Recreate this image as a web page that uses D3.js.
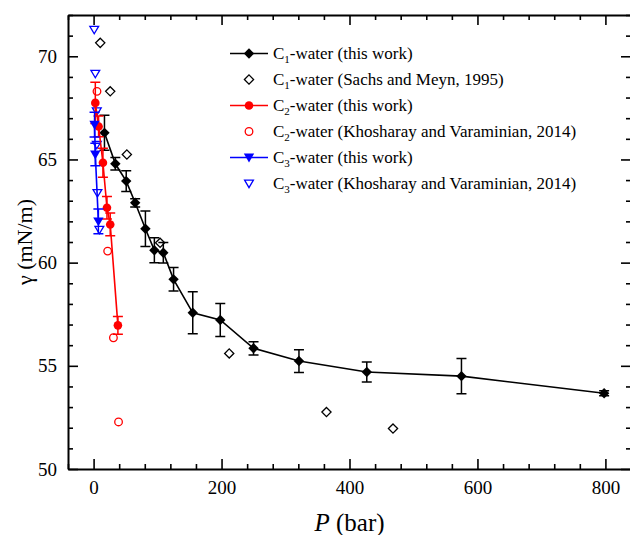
<!DOCTYPE html>
<html>
<head>
<meta charset="utf-8">
<script src="https://cdn.jsdelivr.net/npm/d3@7"></script>
<style>
body{margin:0;background:#fff;}
</style>
</head>
<body>
<script>
// C1-water (this work)
var c1P=[17,34,51,65,81,95,109,125,155,198,250,321,427,575,798];
var c1G=[66.29,64.79,63.95,62.9,61.64,60.6,60.48,59.19,57.57,57.22,55.85,55.23,54.7,54.5,53.67];
var c1Err=[0.85,0.3,0.5,0.2,0.86,0.6,0.5,0.57,1.02,0.8,0.32,0.55,0.48,0.85,0.12];
// C1-water (Sachs and Meyn, 1995)
var sachsP=[10.4,26,52,104,212,364,468];
var sachsG=[70.65,68.3,65.24,60.96,55.6,52.76,51.96];
// C2-water (this work)
var c2P=[2.7,7.8,14.6,20.9,26,38];
var c2G=[67.74,66.6,64.84,62.66,61.85,56.96];
var c2Err=[1.0,0.5,0.7,0.55,0.55,0.43];
// C2-water (Khosharay and Varaminian, 2014)
var khC2P=[5.3,22,31,39];
var khC2G=[68.3,60.56,56.36,52.28];
// C3-water (this work)
var c3P=[1.5,2.7,7.5];
var c3G=[66.69,65.24,62.0];
var c3Err=[0.6,0.55,0.6];
// C3-water (Khosharay and Varaminian, 2014)
var khC3P=[1,2.7,5,5,6,9];
var khC3G=[71.29,69.16,67.34,65.72,63.38,61.6];

var xMajor=[0,200,400,600,800];
var yMajor=[50,55,60,65,70];

var W=630,H=535;
var L=68,R=631,T=15,B=469;
var czcionka="'Liberation Serif', 'DejaVu Serif', serif";

var svg=d3.select("body").append("svg").attr("width",W).attr("height",H);
var x=d3.scaleLinear().domain([-40,840]).range([L,R]);
var y=d3.scaleLinear().domain([50,72]).range([B,T]);

// markers
function markerPath(typ,s)
{
	if(typ=="diamond")
		return "M0,"+(-s)+"L"+s+",0L0,"+s+"L"+(-s)+",0Z";
	if(typ=="tri")
		return "M"+(-s)+","+(-s*0.75)+"L"+s+","+(-s*0.75)+"L0,"+(s*0.95)+"Z";
	return d3.arc()({innerRadius:0,outerRadius:s,startAngle:0,endAngle:2*Math.PI});
}

var seriesLines=[
	{p:c1P,g:c1G,e:c1Err,kolor:"#000",typ:"diamond",s:5.2},
	{p:c2P,g:c2G,e:c2Err,kolor:"#f00",typ:"circle",s:4.3},
	{p:c3P,g:c3G,e:c3Err,kolor:"#00f",typ:"tri",s:5.2}
];
var seriesOpen=[
	{p:sachsP,g:sachsG,kolor:"#000",typ:"diamond",s:4.6},
	{p:khC2P,g:khC2G,kolor:"#f00",typ:"circle",s:3.8},
	{p:khC3P,g:khC3G,kolor:"#00f",typ:"tri",s:4.4}
];

var plot=svg.append("g");

// open symbols (literature)
seriesOpen.forEach(function(sr){
	sr.p.forEach(function(p,i){
		plot.append("path")
			.attr("d",markerPath(sr.typ,sr.s))
			.attr("transform","translate("+x(p)+","+y(sr.g[i])+")")
			.style("fill","none")
			.style("stroke",sr.kolor)
			.style("stroke-width",1.3);
	});
});

// this work: lines, error bars, filled symbols
seriesLines.forEach(function(sr){
	var dane=sr.p.map(function(p,i){return [p,sr.g[i],sr.e[i]];});
	plot.append("path")
		.datum(dane)
		.attr("d",d3.line().x(function(d){return x(d[0]);}).y(function(d){return y(d[1]);}))
		.style("fill","none")
		.style("stroke",sr.kolor)
		.style("stroke-width",1.6);
	dane.forEach(function(d){
		var cx=x(d[0]),y1=y(d[1]+d[2]),y2=y(d[1]-d[2]);
		plot.append("path")
			.attr("d","M"+cx+","+y1+"L"+cx+","+y2+"M"+(cx-5)+","+y1+"L"+(cx+5)+","+y1+"M"+(cx-5)+","+y2+"L"+(cx+5)+","+y2)
			.style("fill","none")
			.style("stroke",sr.kolor)
			.style("stroke-width",1.5);
	});
	dane.forEach(function(d){
		plot.append("path")
			.attr("d",markerPath(sr.typ,sr.s))
			.attr("transform","translate("+x(d[0])+","+y(d[1])+")")
			.style("fill",sr.kolor)
			.style("stroke","none");
	});
});

// axes (ticks inward on all four sides)
var xMinor=d3.range(-40,841,40).filter(function(v){return xMajor.indexOf(v)<0;});
var yMinor=d3.range(50,73,1).filter(function(v){return yMajor.indexOf(v)<0;});

function styleAxis(g)
{
	g.attr("font-family",czcionka);
	g.selectAll("path").style("stroke","#000").style("stroke-width",2);
	g.selectAll("line").style("stroke","#000").style("stroke-width",1.6);
	g.selectAll("text").style("font-size","19px").style("font-family",czcionka).style("fill","#000");
}

svg.append("g").attr("transform","translate(0,"+B+")")
	.call(d3.axisBottom(x).tickValues(xMajor).tickSizeInner(-10).tickSizeOuter(0).tickPadding(12).tickFormat(d3.format("d")))
	.call(styleAxis);
svg.append("g").attr("transform","translate(0,"+B+")")
	.call(d3.axisBottom(x).tickValues(xMinor).tickSize(-5).tickFormat(""))
	.call(styleAxis).select(".domain").remove();
svg.append("g").attr("transform","translate(0,"+T+")")
	.call(d3.axisTop(x).tickValues(xMajor).tickSizeInner(-10).tickSizeOuter(0).tickFormat(""))
	.call(styleAxis);
svg.append("g").attr("transform","translate(0,"+T+")")
	.call(d3.axisTop(x).tickValues(xMinor).tickSize(-5).tickFormat(""))
	.call(styleAxis).select(".domain").remove();
svg.append("g").attr("transform","translate("+L+",0)")
	.call(d3.axisLeft(y).tickValues(yMajor).tickSizeInner(-10).tickSizeOuter(0).tickPadding(11).tickFormat(d3.format("d")))
	.call(styleAxis);
svg.append("g").attr("transform","translate("+L+",0)")
	.call(d3.axisLeft(y).tickValues(yMinor).tickSize(-5).tickFormat(""))
	.call(styleAxis).select(".domain").remove();
svg.append("g").attr("transform","translate("+R+",0)")
	.call(d3.axisRight(y).tickValues(yMajor).tickSizeInner(-10).tickSizeOuter(0).tickFormat(""))
	.call(styleAxis);
svg.append("g").attr("transform","translate("+R+",0)")
	.call(d3.axisRight(y).tickValues(yMinor).tickSize(-5).tickFormat(""))
	.call(styleAxis).select(".domain").remove();

// axis titles
var xt=svg.append("text").attr("x",(L+R)/2).attr("y",531).attr("text-anchor","middle")
	.style("font-family",czcionka).style("font-size","25px");
xt.append("tspan").style("font-style","italic").text("P");
xt.append("tspan").text(" (bar)");
svg.append("text").attr("transform","translate(32,"+((T+B)/2)+") rotate(-90)")
	.attr("text-anchor","middle").style("font-family",czcionka).style("font-size","22px").text("\u03b3 (mN/m)");

// legend
var legendaNazwy=[
	["1","-water (this work)"],
	["1","-water (Sachs and Meyn, 1995)"],
	["2","-water (this work)"],
	["2","-water (Khosharay and Varaminian, 2014)"],
	["3","-water (this work)"],
	["3","-water (Khosharay and Varaminian, 2014)"]
];
var legendaSerie=[seriesLines[0],seriesOpen[0],seriesLines[1],seriesOpen[1],seriesLines[2],seriesOpen[2]];
legendaNazwy.forEach(function(n,i){
	var ly=53.5+i*26;
	var sr=legendaSerie[i];
	var czyLinia=(i%2==0);
	if(czyLinia)
		svg.append("line").attr("x1",230).attr("x2",268).attr("y1",ly).attr("y2",ly)
			.style("stroke",sr.kolor).style("stroke-width",1.6);
	svg.append("path").attr("d",markerPath(sr.typ,sr.s))
		.attr("transform","translate(249,"+ly+")")
		.style("fill",czyLinia?sr.kolor:"none")
		.style("stroke",czyLinia?"none":sr.kolor)
		.style("stroke-width",1.3);
	var t=svg.append("text").attr("x",273).attr("y",ly+5.5)
		.style("font-family",czcionka).style("font-size","17px");
	t.append("tspan").text("C");
	t.append("tspan").attr("dy",4).style("font-size","11px").text(n[0]);
	t.append("tspan").attr("dy",-4).text(n[1]);
});
</script>
</body>
</html>
